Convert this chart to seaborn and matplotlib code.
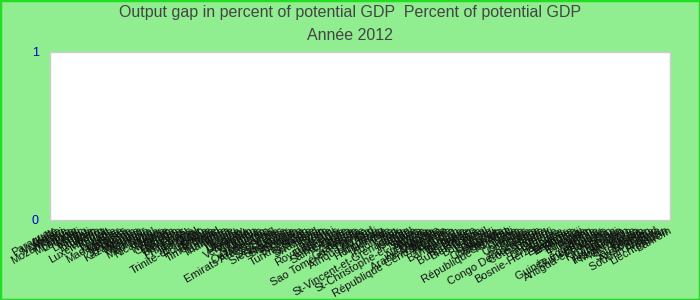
import numpy as np
import pandas as pd
import matplotlib
matplotlib.use("Agg")
import matplotlib.pyplot as plt
import seaborn as sns
from matplotlib.patches import Rectangle

title_line1 = "Output gap in percent of potential GDP  Percent of potential GDP"
title_line2 = "Année 2012"

countries = [
    "Paraguay", "Malte", "Moldavie", "Malawi", "Mozambique", "Libye", "Mongolie", "Lettonie", "Mali", "Maroc",
    "Lesotho", "Kiribati", "Lituanie", "Liban", "Libéria", "Luxembourg", "Kenya", "Koweït", "Laos", "Jordanie",
    "Madagascar", "Malaisie", "Maldives", "Japon", "Jamaïque", "Kazakhstan", "Mexique", "Maurice", "Myanmar", "Namibie",
    "Mauritanie", "Népal", "Nicaragua", "Niger", "Nigeria", "Norvège", "Oman", "Ouganda", "Pakistan", "Panama",
    "Pays-Bas", "Pérou", "Philippines", "Pologne", "Portugal", "Qatar", "Trinité-et-Tobago",
    "Roumanie", "Russie", "Rwanda", "Timor-Leste", "Tchad", "Tanzanie", "Thaïlande", "Tonga", "Tunisie", "Tuvalu",
    "Ukraine", "Uruguay", "Vanuatu", "Venezuela", "Vietnam", "Yémen", "Zambie", "Zimbabwe", "Ouzbékistan", "Tadjikistan",
    "Emirats Arabes Unis",
    "Sénégal", "Serbie", "Seychelles", "Sierra Leone", "Singapour", "Slovaquie", "Slovénie", "Soudan", "Sri Lanka", "Suède",
    "Turkménistan",
    "Suisse", "Suriname", "Swaziland", "Syrie", "Taïwan", "Togo", "Turquie", "Royaume-Uni", "États-Unis", "Salvador",
    "Sainte-Lucie", "Géorgie", "Ghana", "Grèce", "Grenade", "Guatemala",
    "Sao Tomé-et-Principe",
    "Guinée", "Guyana", "Afrique du Sud", "Haïti", "Honduras", "Hong Kong", "Hongrie", "Inde", "Indonésie", "Iran", "Irak",
    "St-Vincent-et-Grenadines",
    "Irlande", "Islande", "Israël", "Italie", "St-Christophe-et-Niévès", "Samoa", "Albanie", "Algérie", "Allemagne",
    "Angola", "Arabie saoudite", "Argentine",
    "République Centrafricaine",
    "Arménie", "Australie", "Autriche", "Bangladesh", "Barbade", "Belgique", "Belize", "Bénin",
    "Burkina Faso",
    "Biélorussie", "Bolivie", "Botswana", "Brésil", "Bulgarie", "Burundi", "Cambodge", "Cameroun", "Canada", "Cap-Vert",
    "République Tchèque",
    "Chili", "Chine", "Chypre", "Colombie", "Comores", "Congo", "Corée", "Costa Rica",
    "Congo Démocratique",
    "Côte d'Ivoire", "Croatie", "Danemark", "Djibouti", "Dominique", "Égypte",
    "Bosnie-Herzégovine",
    "Équateur", "Érythrée", "Espagne", "Estonie", "Éthiopie", "Fidji", "Finlande", "France", "Gabon", "Gambie",
    "Guinée équatoriale", "Guinée-Bissau", "Bahamas",
    "Antigua-et-Barbuda",
    "Kosovo", "Kirghizistan", "Brunei", "Bhoutan", "Afghanistan", "Îles Salomon", "Monténégro", "Micronésie",
    "Macao", "Palaos", "Saint-Marin", "Somalie",
    "Azerbaïdjan",
    "Cuba", "Soudan du Sud", "Andorre", "Nauru", "Liechtenstein", "Bahreïn",
]
# No values are shown for 2012 in the reference chart (missing data)
output_gap = [np.nan for _ in countries]

df = pd.DataFrame({"pays": countries, "gap": output_gap})

sns.set_theme(style="white")
plt.rcParams["font.family"] = ["Liberation Sans", "DejaVu Sans"]

bg = "#90EE90"
fig = plt.figure(figsize=(7, 3), dpi=100, facecolor=bg)
ax = fig.add_axes([50 / 700, 1 - 220 / 300, 620 / 700, 168 / 300])
ax.set_facecolor("white")

sns.barplot(data=df, x="pays", y="gap", order=countries, color="#4472C4", ax=ax)
ax.set_xlim(-0.5, len(countries) - 0.5)
ax.set_ylim(0, 1)
ax.set_yticks([0, 1])
ax.set_yticklabels(["0", "1"], color="#0000CC", fontsize=9)
ax.tick_params(axis="y", length=0, pad=8)
ax.tick_params(axis="x", length=0, pad=4)
ax.set_xticks(range(len(countries)))
ax.set_xticklabels(countries, rotation=30, ha="right", rotation_mode="anchor", fontsize=8, color="#111111")
ax.set_xlabel("")
ax.set_ylabel("")
for s in ax.spines.values():
    s.set_color("#cccccc")
    s.set_linewidth(1)

fig.text(0.5, 1 - 13 / 300, title_line1, ha="center", va="center", fontsize=11.5, color="#444444")
fig.text(0.5, 1 - 36 / 300, title_line2, ha="center", va="center", fontsize=11.5, color="#444444")

fig.patches.append(Rectangle((0, 0), 1, 1, transform=fig.transFigure, fill=False,
                             edgecolor="#22DD22", linewidth=2.5, zorder=10))

fig.savefig("out.png", dpi=100, facecolor=bg)
